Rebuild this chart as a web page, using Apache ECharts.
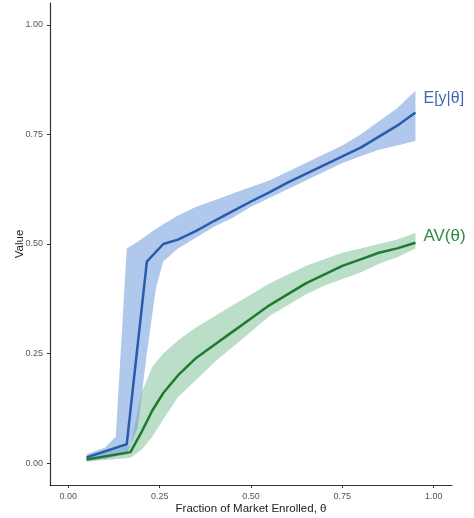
<!DOCTYPE html>
<html><head><meta charset="utf-8">
<script src="https://cdn.jsdelivr.net/npm/echarts@6/dist/echarts.min.js"></script>
<style>html,body{margin:0;padding:0;background:#fff}#c{width:474px;height:518px}</style>
</head><body><div id="c"></div>
<script>
// E[y|θ] line
const eyX = [0.05, 0.16, 0.215, 0.26, 0.30, 0.35, 0.40, 0.45, 0.50, 0.55, 0.60, 0.65, 0.70, 0.75, 0.80, 0.85, 0.90, 0.95];
const eyY = [0.013, 0.043, 0.46, 0.50, 0.51, 0.53, 0.553, 0.575, 0.597, 0.618, 0.64, 0.66, 0.68, 0.70, 0.72, 0.745, 0.77, 0.80];
// E[y|θ] band
const eyBandX = [0.05, 0.10, 0.13, 0.16, 0.19, 0.215, 0.24, 0.26, 0.30, 0.35, 0.40, 0.45, 0.50, 0.55, 0.60, 0.65, 0.70, 0.75, 0.80, 0.85, 0.90, 0.95];
const eyLow  = [0.005, 0.01, 0.015, 0.02, 0.08, 0.25, 0.40, 0.46, 0.49, 0.515, 0.54, 0.56, 0.585, 0.605, 0.625, 0.645, 0.665, 0.685, 0.70, 0.715, 0.725, 0.735];
const eyHigh = [0.02, 0.035, 0.06, 0.49, 0.505, 0.52, 0.535, 0.545, 0.565, 0.585, 0.60, 0.615, 0.63, 0.645, 0.665, 0.685, 0.705, 0.725, 0.75, 0.78, 0.81, 0.85];
// AV(θ) line
const avX = [0.05, 0.17, 0.20, 0.23, 0.26, 0.30, 0.35, 0.40, 0.45, 0.50, 0.55, 0.60, 0.65, 0.70, 0.75, 0.80, 0.85, 0.90, 0.95];
const avY = [0.008, 0.025, 0.07, 0.12, 0.16, 0.20, 0.24, 0.27, 0.30, 0.33, 0.36, 0.385, 0.41, 0.43, 0.45, 0.465, 0.48, 0.49, 0.503];
// AV(θ) band
const avLow  = [0.003, 0.012, 0.03, 0.06, 0.10, 0.15, 0.19, 0.23, 0.265, 0.30, 0.335, 0.36, 0.385, 0.405, 0.42, 0.435, 0.455, 0.47, 0.49];
const avHigh = [0.013, 0.04, 0.16, 0.22, 0.25, 0.28, 0.31, 0.335, 0.36, 0.385, 0.41, 0.43, 0.45, 0.465, 0.48, 0.49, 0.50, 0.51, 0.525];
// ticks
const tickVals = [0, 0.25, 0.5, 0.75, 1.0];

function zip(xs, ys){ return xs.map((x,i)=>[x, ys[i]]); }
function bandSeries(xs, lo, hi, color){
  const data = xs.map((x,i)=>[x, lo[i], hi[i]]);
  return {
    type: 'custom', silent: true, z: 1,
    data: data,
    encode: {x: 0, y: [1, 2]},
    renderItem: function(params, api){
      if (params.dataIndex !== 0) return null;
      const pts = [];
      for (let i = 0; i < data.length; i++) pts.push(api.coord([data[i][0], data[i][2]]));
      for (let i = data.length - 1; i >= 0; i--) pts.push(api.coord([data[i][0], data[i][1]]));
      return {type: 'polygon', shape: {points: pts}, style: {fill: color}};
    }
  };
}

const chart = echarts.init(document.getElementById('c'), null, {renderer: 'canvas'});
const axisCommon = {
  type: 'value', min: -0.05, max: 1.05,
  splitLine: {show: false},
  nameMoveOverlap: false,
  axisLine: {show: true, onZero: false, lineStyle: {color: '#333', width: 1.2}},
  axisTick: {show: true, length: 3, customValues: tickVals, lineStyle: {color: '#333'}},
  axisLabel: {customValues: tickVals, formatter: v => v.toFixed(2), color: '#555', fontSize: 9, fontFamily: 'Liberation Sans'},
  nameTextStyle: {color: '#222', fontSize: 11.5, fontFamily: 'Liberation Sans'}
};
chart.setOption({
  animation: false,
  backgroundColor: '#fff',
  grid: {left: 50, right: 22, top: 3, bottom: 33, containLabel: false, outerBoundsMode: 'none'},
  xAxis: Object.assign({}, axisCommon, {name: 'Fraction of Market Enrolled, θ', nameLocation: 'middle', nameGap: 18,
    axisLabel: Object.assign({}, axisCommon.axisLabel, {margin: 7})}),
  yAxis: Object.assign({}, axisCommon, {name: 'Value', nameLocation: 'middle', nameGap: 24, nameRotate: 90,
    axisLabel: Object.assign({}, axisCommon.axisLabel, {margin: 7})}),
  series: [
    bandSeries(avX, avLow, avHigh, 'rgba(120,190,145,0.5)'),
    bandSeries(eyBandX, eyLow, eyHigh, 'rgba(110,155,220,0.55)'),
    {type: 'line', data: zip(avX, avY), showSymbol: false, z: 3,
     lineStyle: {color: '#1f7a2f', width: 2.5},
     endLabel: {show: true, formatter: 'AV(θ)', color: '#2e8b3e', fontSize: 17, fontFamily: 'Liberation Sans', distance: 8, offset: [0, -6]}},
    {type: 'line', data: zip(eyX, eyY), showSymbol: false, z: 3,
     lineStyle: {color: '#2a5aae', width: 2.5},
     endLabel: {show: true, formatter: 'E[y|θ]', color: '#4066b5', fontSize: 16, fontFamily: 'Liberation Sans', distance: 8, offset: [0, -14]}}
  ]
});
</script></body></html>
